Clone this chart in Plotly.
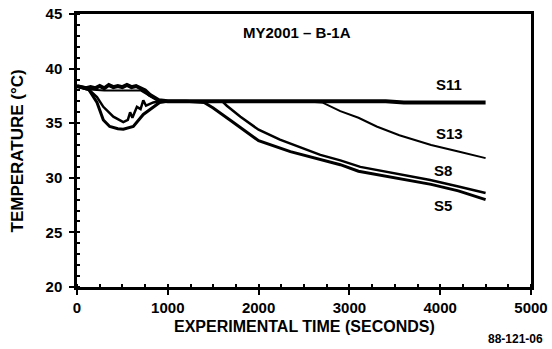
import plotly.graph_objects as go

# ---- data ----
t_s11 = [0, 100, 150, 200, 250, 300, 350, 400, 450, 500, 550, 600, 650, 700, 750, 800, 850, 900,
         1000, 1200, 1400, 1600, 1800, 2000, 2200, 2400, 2600, 2800, 3000, 3200, 3400, 3600,
         3800, 4000, 4200, 4400, 4500]
s11 = [38.4, 38.2, 38.3, 38.2, 38.4, 38.2, 38.5, 38.3, 38.4, 38.3, 38.5, 38.3, 38.4, 38.2, 38.0, 37.6, 37.3, 37.1,
       37.0, 37.0, 37.0, 37.0, 37.0, 37.0, 37.0, 37.0, 37.0, 37.0, 37.0, 37.0, 37.0, 36.9,
       36.9, 36.9, 36.9, 36.9, 36.9]

t_s13 = [0, 100, 300, 500, 700, 800, 900, 1000, 1500, 2000, 2500, 2700, 2900, 3100, 3300,
         3550, 3900, 4200, 4500]
s13 = [38.4, 38.1, 38.0, 38.0, 38.0, 37.5, 37.1, 37.0, 37.0, 37.0, 37.0, 36.9, 36.1, 35.5, 34.7,
       33.9, 33.0, 32.4, 31.8]

t_s8 = [0, 140, 220, 290, 400, 510, 560, 585, 610, 640, 660, 700, 730, 760, 840, 910, 1000,
        1300, 1600, 1650, 1800, 2000, 2235, 2680, 2900, 3120, 3500, 3890, 4200, 4500]
s8 = [38.4, 38.0, 37.4, 36.5, 35.6, 35.1, 35.3, 36.0, 35.5, 36.2, 36.5, 36.3, 37.1, 36.6, 36.9, 37.0, 37.0,
      37.0, 37.0, 36.6, 35.6, 34.4, 33.5, 32.1, 31.6, 31.0, 30.4, 29.8, 29.2, 28.6]

t_s5 = [0, 120, 220, 290, 360, 450, 510, 620, 730, 840, 910, 1000, 1200, 1400, 1500, 1700,
        2000, 2350, 2700, 2900, 3100, 3500, 3900, 4200, 4500]
s5 = [38.4, 38.2, 36.9, 35.3, 34.7, 34.5, 34.45, 34.7, 35.8, 36.5, 36.9, 37.0, 37.0, 36.9, 36.4, 35.2,
      33.4, 32.4, 31.6, 31.2, 30.6, 30.0, 29.4, 28.8, 28.0]

x_ticks = [0, 1000, 2000, 3000, 4000, 5000]
y_ticks = [20, 25, 30, 35, 40, 45]

FONT = "Liberation Sans, Arial, sans-serif"

fig = go.Figure()
for tx, ty, w in [(t_s11, s11, 4), (t_s13, s13, 2), (t_s8, s8, 2.5), (t_s5, s5, 3)]:
    fig.add_trace(go.Scatter(x=tx, y=ty, mode="lines",
                             line=dict(color="black", width=w), showlegend=False))

axis_common = dict(showgrid=False, zeroline=False, showline=True, linecolor="black",
                   linewidth=2.5, mirror=True, ticks="outside", ticklen=5, tickwidth=2,
                   tickcolor="black", automargin=False,
                   tickfont=dict(family=FONT, size=15, color="black", weight="bold"))

fig.update_xaxes(range=[0, 5000], tickvals=x_ticks, ticktext=[str(v) for v in x_ticks],
                 minor=dict(dtick=250, ticks="inside", ticklen=3, tickcolor="black", tickwidth=1.5),
                 **axis_common)
fig.update_yaxes(range=[20, 45], tickvals=y_ticks, ticktext=[str(v) for v in y_ticks],
                 minor=dict(dtick=1, ticks="inside", ticklen=3, tickcolor="black", tickwidth=1.5),
                 ticklabelstandoff=4, **axis_common)

ann_font = dict(family=FONT, size=15, color="black", weight="bold")


def pa(text, x, y, font, **kw):
    return dict(text=text, x=x, y=y, xref="paper", yref="paper", showarrow=False,
                xanchor="center", yanchor="middle", font=font, **kw)


annotations = [
    pa("MY2001 – B-1A", 0.485, 0.934, ann_font),
    dict(text="S11", x=4100, y=38.5, showarrow=False, font=ann_font),
    dict(text="S13", x=4100, y=34.1, showarrow=False, font=ann_font),
    dict(text="S8", x=4030, y=30.7, showarrow=False, font=ann_font),
    dict(text="S5", x=4030, y=27.5, showarrow=False, font=ann_font),
    pa("EXPERIMENTAL TIME (SECONDS)", 0.502, -0.143,
       dict(family=FONT, size=16, color="black", weight="bold")),
    pa("TEMPERATURE (°C)", -0.13, 0.50,
       dict(family=FONT, size=17, color="black", weight="bold"), textangle=-90),
    pa("88-121-06", 0.965, -0.19, dict(family=FONT, size=12, color="black", weight="bold")),
]

fig.update_layout(width=552, height=349, margin=dict(l=77, r=21, t=14, b=62),
                  paper_bgcolor="white", plot_bgcolor="white", annotations=annotations)

fig.write_html("out.html")
